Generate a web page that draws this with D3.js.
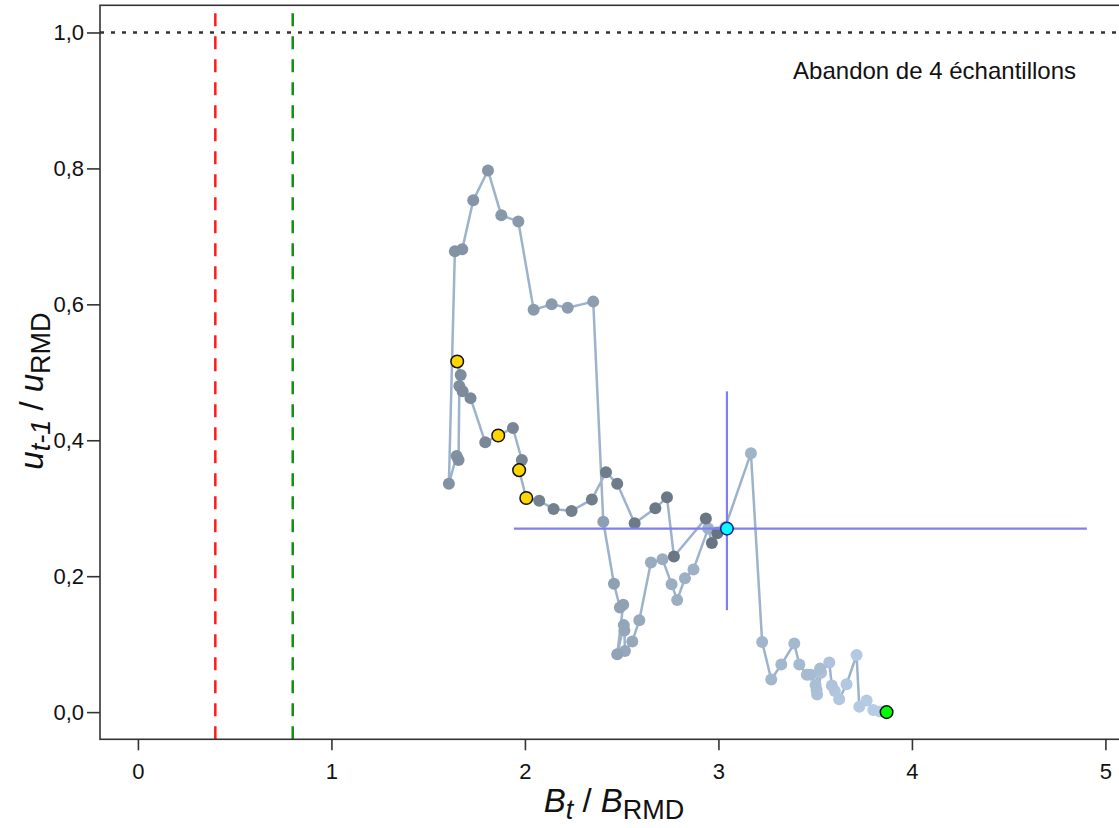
<!DOCTYPE html>
<html>
<head>
<meta charset="utf-8">
<script src="https://cdn.jsdelivr.net/npm/d3@7"></script>
<style>
  body { margin: 0; background: #fff; }
  svg { display: block; }
  text { font-family: "Liberation Sans", Arial, Helvetica, sans-serif; }
</style>
</head>
<body>
<svg id="chart" width="1119" height="828"></svg>
<script>
// Stock trajectory (snail plot): biomass ratio vs harvest-rate ratio, in time order
const bRatio = [
  3.869, 3.835, 3.800, 3.766, 3.728, 3.714, 3.662, 3.624, 3.602, 3.586,
  3.573, 3.531, 3.510, 3.507, 3.502, 3.525, 3.478, 3.457, 3.418, 3.392,
  3.325, 3.273, 3.226, 3.168, 3.035, 2.947, 2.871, 2.827, 2.787, 2.758,
  2.711, 2.651, 2.591, 2.555, 2.517, 2.514, 2.511, 2.477, 2.508, 2.491,
  2.460, 2.405, 2.353, 2.221, 2.138, 2.045, 1.966, 1.878, 1.809, 1.733,
  1.676, 1.638, 1.607, 1.647, 1.657, 1.661, 1.668, 1.650, 1.678, 1.719,
  1.795, 1.862, 1.938, 1.984, 1.970, 2.007, 2.074, 2.148, 2.241, 2.346,
  2.419, 2.477, 2.567, 2.674, 2.734, 2.770, 2.935, 2.966, 2.994, 3.044
];
const uRatio = [
  0.000, 0.001, 0.003, 0.017, 0.008, 0.084, 0.041, 0.019, 0.031, 0.039,
  0.073, 0.058, 0.026, 0.033, 0.040, 0.064, 0.055, 0.055, 0.070, 0.101,
  0.070, 0.048, 0.103, 0.381, 0.272, 0.270, 0.210, 0.197, 0.165, 0.188,
  0.225, 0.220, 0.135, 0.104, 0.090, 0.120, 0.128, 0.085, 0.158, 0.154,
  0.189, 0.280, 0.604, 0.595, 0.600, 0.592, 0.722, 0.731, 0.797, 0.753,
  0.681, 0.678, 0.336, 0.377, 0.371, 0.480, 0.496, 0.516, 0.472, 0.462,
  0.397, 0.407, 0.418, 0.371, 0.356, 0.315, 0.311, 0.299, 0.296, 0.313,
  0.353, 0.336, 0.278, 0.300, 0.316, 0.229, 0.285, 0.249, 0.263, 0.270
];
// Highlighted years (positions in the series above)
const markedIdx = [57, 61, 64, 65];

// Uncertainty of the final year
const bInterval = [1.943, 4.904];
const uInterval = [0.150, 0.472];

// Reference points
const limitRef = 0.4;   // 0.4 B_RMD
const upperRef = 0.8;   // 0.8 B_RMD
const uRef = 1.0;       // u = u_RMD

const xTicks = [0, 1, 2, 3, 4, 5];
const yTicks = [0.0, 0.2, 0.4, 0.6, 0.8, 1.0];
const noteText = "Abandon de 4 échantillons";

const svg = d3.select("#chart");
const plot = { left: 100, right: 1124, top: 5.3, bottom: 739.3 };

const xMax = 4.9, yMax = 1.0;
const x = d3.scaleLinear()
  .domain([-0.04 * xMax, xMax * 1.04])
  .range([plot.left, plot.right]);
const y = d3.scaleLinear()
  .domain([-0.04 * yMax, yMax * 1.04])
  .range([plot.bottom, plot.top]);

const axisColor = "#333";
const fmtComma = d => d3.format(".1f")(d).replace(".", ",");

// Reference lines
svg.append("line")
  .attr("x1", x.range()[0]).attr("x2", x.range()[1])
  .attr("y1", y(uRef)).attr("y2", y(uRef))
  .attr("stroke", "#333").attr("stroke-width", 2.5)
  .attr("stroke-dasharray", "4,7");

[[limitRef, "#ff1a1a"], [upperRef, "#138f13"]].forEach(([v, c]) => {
  svg.append("line")
    .attr("x1", x(v)).attr("x2", x(v))
    .attr("y1", plot.bottom).attr("y2", plot.top)
    .attr("stroke", c).attr("stroke-width", 2.5)
    .attr("stroke-dasharray", "13,10");
});

// Trajectory
const pts = bRatio.map((b, i) => ({ b, u: uRatio[i], i }));
const n = pts.length;
const ptColor = d3.interpolateRgb("#b8cfe8", "#66727f");

svg.append("path")
  .datum(pts)
  .attr("fill", "none")
  .attr("stroke", "#9db3cb")
  .attr("stroke-width", 2.5)
  .attr("stroke-linejoin", "round")
  .attr("d", d3.line().x(d => x(d.b)).y(d => y(d.u)));

svg.append("g").selectAll("circle")
  .data(pts)
  .join("circle")
  .attr("cx", d => x(d.b))
  .attr("cy", d => y(d.u))
  .attr("r", 6)
  .attr("fill", d => ptColor(d.i / (n - 1)));

// Final-year uncertainty crosshair
const last = pts[n - 1];
svg.append("line")
  .attr("x1", x(bInterval[0])).attr("x2", x(bInterval[1]))
  .attr("y1", y(last.u)).attr("y2", y(last.u))
  .attr("stroke", "#7f7ff3").attr("stroke-width", 2.2);
svg.append("line")
  .attr("x1", x(last.b)).attr("x2", x(last.b))
  .attr("y1", y(uInterval[0])).attr("y2", y(uInterval[1]))
  .attr("stroke", "#7f7ff3").attr("stroke-width", 2.2);

// Highlighted years
svg.append("g").selectAll("circle")
  .data(markedIdx.map(i => pts[i]))
  .join("circle")
  .attr("cx", d => x(d.b))
  .attr("cy", d => y(d.u))
  .attr("r", 6.3)
  .attr("fill", "#ffd500")
  .attr("stroke", "#111")
  .attr("stroke-width", 1.5);

// First and last year
svg.append("circle")
  .attr("cx", x(pts[0].b)).attr("cy", y(pts[0].u)).attr("r", 6.3)
  .attr("fill", "#00ff00").attr("stroke", "#111").attr("stroke-width", 1.5);
svg.append("circle")
  .attr("cx", x(last.b)).attr("cy", y(last.u)).attr("r", 6.3)
  .attr("fill", "#00ffff").attr("stroke", "#1a1a8c").attr("stroke-width", 1.5);

// Frame
svg.append("rect")
  .attr("x", plot.left).attr("y", plot.top)
  .attr("width", plot.right - plot.left).attr("height", plot.bottom - plot.top)
  .attr("fill", "none").attr("stroke", axisColor).attr("stroke-width", 1.6);

// Axes
const xAxis = svg.append("g")
  .attr("transform", `translate(0,${plot.bottom})`)
  .call(d3.axisBottom(x).tickValues(xTicks).tickSize(11).tickPadding(13)
    .tickFormat(d3.format("d")));
const yAxis = svg.append("g")
  .attr("transform", `translate(${plot.left},0)`)
  .call(d3.axisLeft(y).tickValues(yTicks).tickSize(13).tickPadding(3)
    .tickFormat(fmtComma));
[xAxis, yAxis].forEach(g => {
  g.select(".domain").remove();
  g.selectAll(".tick line").attr("stroke", axisColor).attr("stroke-width", 1.6);
  g.selectAll(".tick text").attr("fill", "#111").attr("font-size", 22)
    .attr("font-family", "'Liberation Sans', Arial, sans-serif");
});

// Axis titles
const xTitle = svg.append("text")
  .attr("x", 614).attr("y", 812)
  .attr("text-anchor", "middle").attr("font-size", 33).attr("fill", "#111");
xTitle.append("tspan").attr("font-style", "italic").text("B");
xTitle.append("tspan").attr("font-style", "italic").attr("font-size", 27).attr("dy", 7).text("t");
xTitle.append("tspan").attr("dy", -7).text(" / ");
xTitle.append("tspan").attr("font-style", "italic").text("B");
xTitle.append("tspan").attr("font-size", 27).attr("dy", 7).text("RMD");

const yTitle = svg.append("text")
  .attr("transform", "translate(43,391) rotate(-90)")
  .attr("text-anchor", "middle").attr("font-size", 33).attr("fill", "#111");
yTitle.append("tspan").attr("font-style", "italic").text("u");
yTitle.append("tspan").attr("font-style", "italic").attr("font-size", 27).attr("dy", 7).text("t-1");
yTitle.append("tspan").attr("dy", -7).text(" / ");
yTitle.append("tspan").attr("font-style", "italic").text("u");
yTitle.append("tspan").attr("font-size", 27).attr("dy", 7).text("RMD");

// Note
svg.append("text")
  .attr("x", 1076).attr("y", 79)
  .attr("text-anchor", "end").attr("font-size", 24).attr("fill", "#111")
  .text(noteText);
</script>
</body>
</html>
